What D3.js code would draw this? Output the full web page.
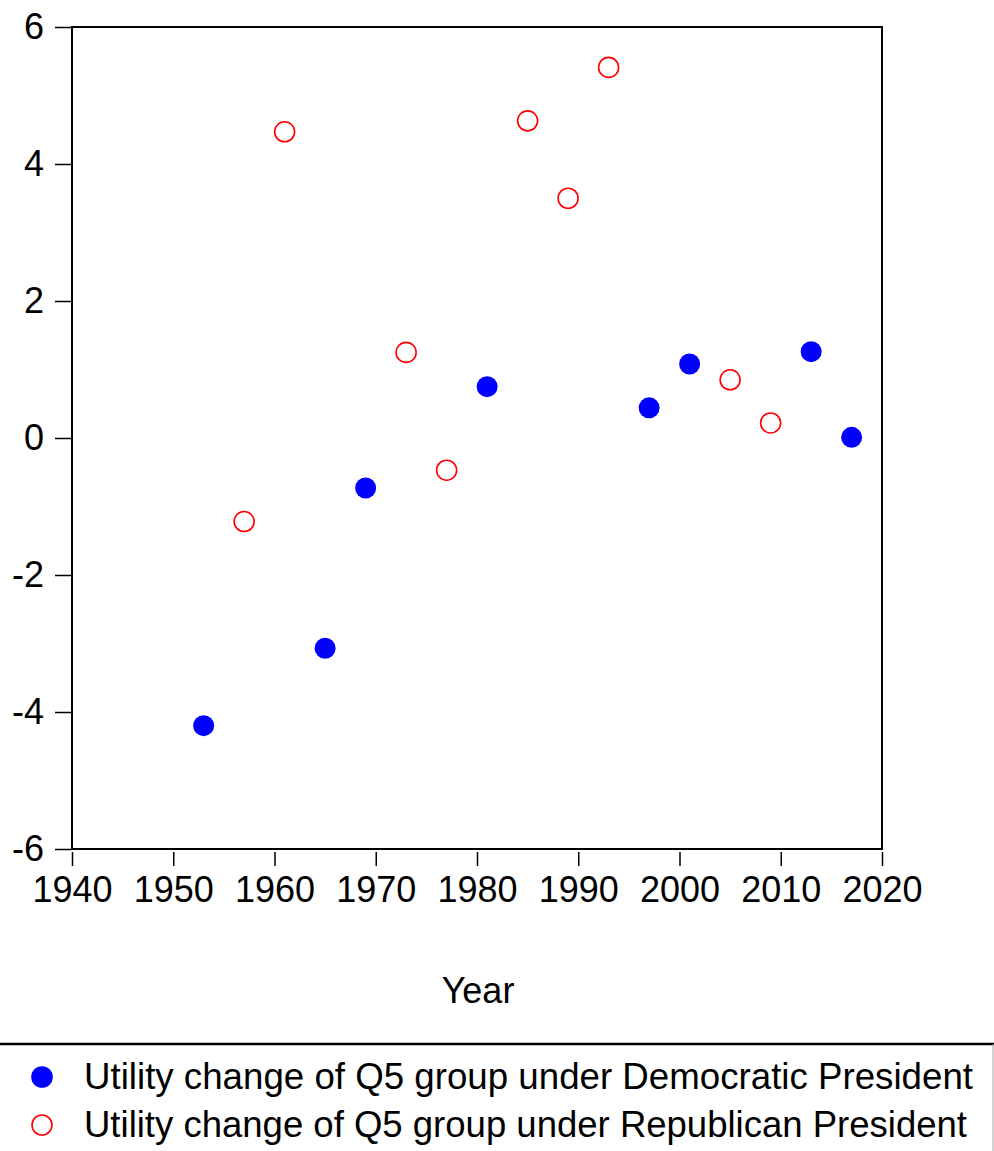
<!DOCTYPE html>
<html><head><meta charset="utf-8">
<script src="https://cdn.jsdelivr.net/npm/d3@7/dist/d3.min.js"></script>
<style>body{margin:0;background:#fff}svg{display:block;font-family:Arial,"Liberation Sans",sans-serif}</style>
</head><body><svg id="c" width="994" height="1151"></svg>
<script>
const demYears = [1953, 1965, 1969, 1981, 1997, 2001, 2013, 2017];
const demValues = [-4.20, -3.07, -0.73, 0.75, 0.44, 1.08, 1.26, 0.01];
const repYears = [1957, 1961, 1973, 1977, 1985, 1989, 1993, 2005, 2009];
const repValues = [-1.22, 4.47, 1.25, -0.47, 4.63, 3.50, 5.41, 0.85, 0.22];
const xTicks = [1940, 1950, 1960, 1970, 1980, 1990, 2000, 2010, 2020];
const yTicks = [-6, -4, -2, 0, 2, 4, 6];
const legendLabels = ["Utility change of Q5 group under Democratic President",
                      "Utility change of Q5 group under Republican President"];

const svg = d3.select("#c");
const L = 72, R = 882, T = 27, B = 849;
const x = d3.scaleLinear().domain([1940, 2020]).range([L, R]);
const y = d3.scaleLinear().domain([-6, 6]).range([B, T]);

// frame
svg.append("rect").attr("x", L).attr("y", T).attr("width", R - L).attr("height", B - T)
  .attr("fill", "none").attr("stroke", "#000").attr("stroke-width", 2);

const fmt = d => String(d);
const yAxis = svg.append("g").attr("transform", `translate(${L},0)`)
  .call(d3.axisLeft(y).tickValues(yTicks).tickSize(17).tickPadding(11).tickFormat(fmt));
const xAxis = svg.append("g").attr("transform", `translate(0,${B})`)
  .call(d3.axisBottom(x).tickValues(xTicks).tickSize(17).tickPadding(10).tickFormat(fmt));
[yAxis, xAxis].forEach(a => {
  a.select(".domain").remove();
  a.selectAll(".tick line").attr("stroke", "#000").attr("stroke-width", 1.5);
  a.selectAll(".tick text").attr("fill", "#000").style("font-size", "36px")
    .style("font-family", "Arial, 'Liberation Sans', sans-serif");
});
xAxis.selectAll(".tick line").attr("y1", 3);

svg.append("text").attr("x", 478).attr("y", 1003).attr("text-anchor", "middle")
  .style("font-size", "36px").text("Year");

// points
svg.append("g").selectAll("circle").data(demYears).join("circle")
  .attr("cx", (d) => x(d)).attr("cy", (d, i) => y(demValues[i])).attr("r", 10.5)
  .attr("fill", "#0000ff");
svg.append("g").selectAll("circle").data(repYears).join("circle")
  .attr("cx", (d) => x(d)).attr("cy", (d, i) => y(repValues[i])).attr("r", 10)
  .attr("fill", "#fff").attr("stroke", "#ff0000").attr("stroke-width", 1.6);

// legend
svg.append("line").attr("x1", 0).attr("x2", 994).attr("y1", 1044).attr("y2", 1044)
  .attr("stroke", "#000").attr("stroke-width", 2.5);
svg.append("line").attr("x1", 993).attr("x2", 993).attr("y1", 1044).attr("y2", 1151)
  .attr("stroke", "#aaa").attr("stroke-width", 1);
const rows = [1077, 1125];
svg.append("circle").attr("cx", 42).attr("cy", rows[0]).attr("r", 10.8).attr("fill", "#0000ff");
svg.append("circle").attr("cx", 42).attr("cy", rows[1]).attr("r", 10).attr("fill", "#fff")
  .attr("stroke", "#ff0000").attr("stroke-width", 1.6);
svg.append("g").selectAll("text").data(legendLabels).join("text")
  .attr("x", 84).attr("y", (d, i) => rows[i] + 12)
  .style("font-size", "36px")
  .attr("textLength", (d, i) => i === 0 ? 889 : 883)
  .attr("lengthAdjust", "spacingAndGlyphs")
  .text(d => d);
</script></body></html>
